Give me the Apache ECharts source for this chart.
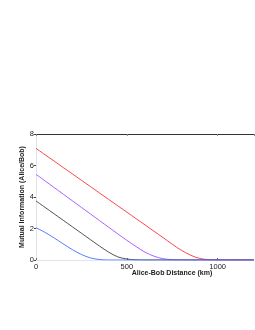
<!DOCTYPE html>
<html>
<head>
<meta charset="utf-8">
<script src="https://cdn.jsdelivr.net/npm/echarts@6/dist/echarts.min.js"></script>
<style>html,body{margin:0;padding:0;background:#fff}#c{width:255px;height:330px}</style>
</head>
<body>
<div id="c"></div>
<script>
var distances = [0,50,100,150,200,250,300,350,400,450,500,550,600,650,700,750,800,850,900,950,1000,1050,1100,1150,1200];
var redValues    = [7.09,6.68,6.28,5.87,5.47,5.06,4.66,4.25,3.85,3.44,3.04,2.63,2.23,1.82,1.42,1.0,0.62,0.31,0.1,0.02,0,0,0,0,0];
var purpleValues = [5.44,5.02,4.6,4.18,3.76,3.34,2.92,2.5,2.08,1.66,1.25,0.86,0.5,0.24,0.08,0.02,0,0,0,0,0,0,0,0,0];
var blackValues  = [3.75,3.34,2.93,2.52,2.11,1.7,1.29,0.88,0.5,0.2,0.06,0.01,0,0,0,0,0,0,0,0,0,0,0,0,0];
var blueValues   = [2.05,1.75,1.4,1.02,0.66,0.35,0.13,0.03,0,0,0,0,0,0,0,0,0,0,0,0,0,0,0,0,0];
var xTicks = [0,500,1000];
var yTicks = [0,2,4,6,8];
var xTitle = 'Alice-Bob Distance (km)';
var yTitle = 'Mutual Information (Alice/Bob)';

function pairs(vals){ return distances.map(function(d,i){ return [d, vals[i]]; }); }

var chart = echarts.init(document.getElementById('c'), null, {renderer:'canvas'});
var font = 'Liberation Sans';
function mk(name, vals, color){
  return {name:name, type:'line', data:pairs(vals), showSymbol:false, smooth:0.3,
    lineStyle:{color:color, width:0.9}, animation:false, xAxisIndex:0, yAxisIndex:0};
}
chart.setOption({
  animation:false,
  grid:{left:36, right:1, top:134, bottom:70, containLabel:false},
  xAxis:[{
    type:'value', position:'bottom', min:0, max:1200, interval:500,
    name:xTitle, nameLocation:'middle', nameGap:10, nameMoveOverlap:false,
    nameTextStyle:{fontFamily:font, fontSize:7, fontWeight:'bold', color:'#222', padding:[0,0,0,54]},
    axisLine:{show:true, lineStyle:{color:'#dde6ee', width:1}},
    axisTick:{show:true, inside:true, length:2, lineStyle:{color:'#666'}},
    axisLabel:{fontFamily:font, fontSize:7.5, color:'#222', margin:3, showMaxLabel:false,
      formatter:function(v){ return xTicks.indexOf(v) >= 0 ? String(v) : ''; }},
    splitLine:{show:false}
  },{
    type:'value', position:'top', min:0, max:1200, interval:500,
    axisLine:{show:true, lineStyle:{color:'#333', width:1}},
    axisTick:{show:true, inside:true, length:2, lineStyle:{color:'#888'}},
    axisLabel:{show:false}, splitLine:{show:false}
  }],
  yAxis:[{
    type:'value', min:0, max:8, interval:2,
    name:yTitle, nameLocation:'middle', nameGap:10, nameRotate:90, nameMoveOverlap:false,
    nameTextStyle:{fontFamily:font, fontSize:7, fontWeight:'bold', color:'#222', padding:[0,0,0,0]},
    axisLine:{show:true, lineStyle:{color:'#dde6ee', width:1}},
    axisTick:{show:true, inside:false, length:2, lineStyle:{color:'#444'}},
    axisLabel:{fontFamily:font, fontSize:7.5, color:'#222', margin:2,
      formatter:function(v){ return yTicks.indexOf(v) >= 0 ? String(v) : ''; }},
    splitLine:{show:false}
  }],
  series:[
    mk('red', redValues, '#ff3030'),
    mk('purple', purpleValues, '#a050ff'),
    mk('black', blackValues, '#404040'),
    mk('blue', blueValues, '#4070ff')
  ]
});
</script>
</body>
</html>
